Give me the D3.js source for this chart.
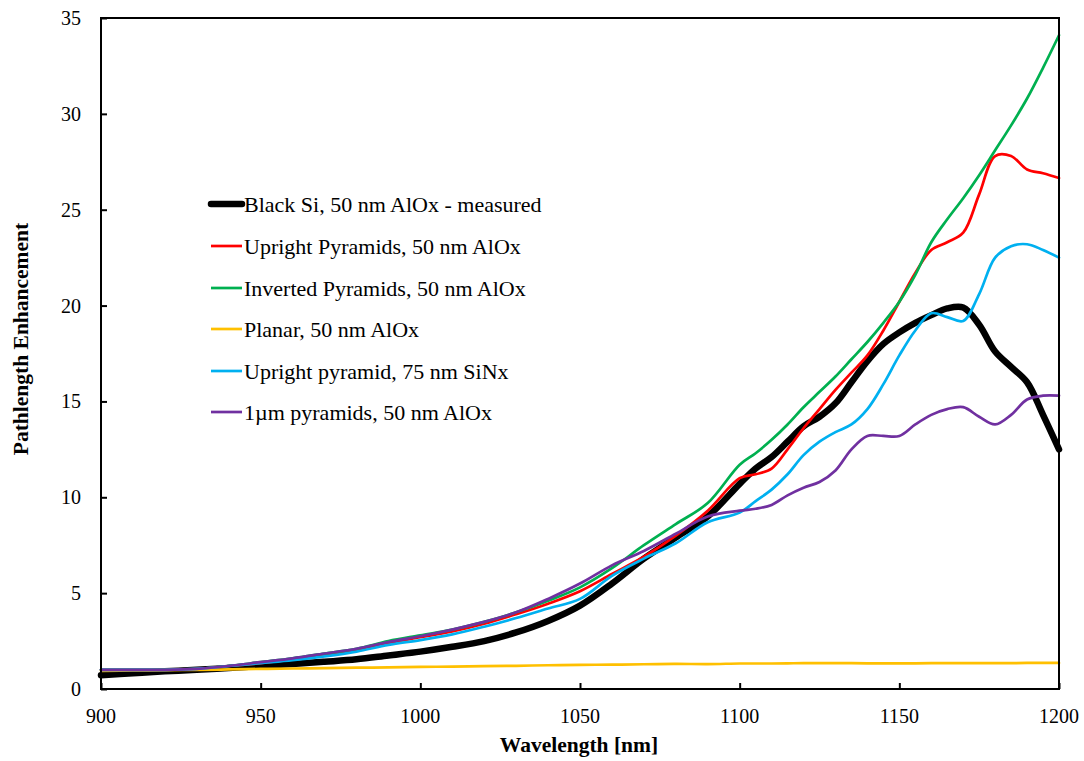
<!DOCTYPE html>
<html><head><meta charset="utf-8">
<script src="https://cdn.jsdelivr.net/npm/d3@7"></script>
<style>body{margin:0;background:#fff}svg{display:block}</style>
</head><body>
<svg id="chart" width="1084" height="761"></svg>
<script>
const wavelengths = [900,910,920,930,940,950,960,970,980,990,1000,1010,1020,1030,1040,1050,1060,1070,1080,1090,1100,1105,1110,1115,1120,1125,1130,1135,1140,1145,1150,1155,1160,1165,1170,1175,1180,1185,1190,1195,1200];
const blackSi = [0.72,0.82,0.92,1.0,1.1,1.2,1.3,1.42,1.55,1.75,1.95,2.2,2.5,2.95,3.55,4.35,5.5,6.8,7.9,9.0,10.7,11.5,12.1,12.9,13.7,14.2,14.9,16.0,17.1,18.0,18.6,19.1,19.5,19.85,19.9,19.0,17.6,16.8,16.0,14.3,12.5];
const uprightAlOx = [1.0,1.0,1.0,1.05,1.2,1.35,1.55,1.75,2.0,2.4,2.7,3.0,3.4,3.9,4.45,5.1,6.0,6.9,8.0,9.3,11.0,11.2,11.5,12.5,13.6,14.6,15.6,16.5,17.4,18.7,20.2,21.7,22.9,23.3,23.8,25.8,27.8,27.8,27.1,26.9,26.65];
const invertedAlOx = [1.0,1.0,1.0,1.05,1.2,1.4,1.6,1.85,2.1,2.5,2.8,3.1,3.5,4.0,4.6,5.3,6.3,7.5,8.6,9.7,11.7,12.3,13.0,13.8,14.7,15.5,16.3,17.2,18.1,19.1,20.2,21.6,23.3,24.5,25.6,26.8,28.1,29.4,30.8,32.4,34.1];
const planarAlOx = [0.95,0.97,0.98,1.0,1.02,1.05,1.07,1.09,1.11,1.13,1.15,1.17,1.19,1.21,1.24,1.26,1.27,1.29,1.31,1.3,1.33,1.33,1.33,1.34,1.35,1.35,1.35,1.35,1.34,1.34,1.34,1.34,1.35,1.35,1.35,1.35,1.35,1.35,1.36,1.36,1.36];
const uprightSiNx = [1.0,1.0,1.0,1.05,1.2,1.35,1.5,1.7,1.95,2.3,2.55,2.85,3.25,3.7,4.2,4.7,5.9,6.8,7.6,8.7,9.2,9.8,10.4,11.2,12.2,12.9,13.4,13.8,14.6,15.9,17.4,18.7,19.6,19.4,19.2,20.6,22.5,23.1,23.2,22.9,22.5];
const micronPyr = [1.0,1.0,1.0,1.05,1.2,1.4,1.6,1.85,2.1,2.45,2.75,3.1,3.5,4.0,4.7,5.5,6.45,7.2,8.1,9.0,9.3,9.4,9.6,10.1,10.5,10.8,11.4,12.5,13.2,13.2,13.2,13.8,14.3,14.6,14.7,14.2,13.8,14.3,15.1,15.3,15.3];
const seriesNames = ["Black Si, 50 nm AlOx - measured","Upright Pyramids, 50 nm AlOx","Inverted Pyramids, 50 nm AlOx","Planar, 50 nm AlOx","Upright pyramid, 75 nm SiNx","1\u00b5m pyramids, 50 nm AlOx"];
const seriesColors = ["#000000","#FF0000","#00B050","#FFC000","#00B0F0","#7030A0"];
const seriesWidths = [6.5,2.7,2.7,2.7,2.7,2.7];
const xTicks = [900,950,1000,1050,1100,1150,1200];
const yTicks = [0,5,10,15,20,25,30,35];

const seriesValues = [blackSi,uprightAlOx,invertedAlOx,planarAlOx,uprightSiNx,micronPyr];
const svg = d3.select("#chart");
const L=101, R=1059, T=18, B=689;
const x = d3.scaleLinear().domain([900,1200]).range([L,R]);
const y = d3.scaleLinear().domain([0,35]).range([B,T]);
const font = "'Liberation Serif','Times New Roman',serif";

// plot series
const line = d3.line().x(d=>x(d[0])).y(d=>y(d[1])).curve(d3.curveCatmullRom.alpha(0.5));
seriesValues.forEach((vals,i)=>{
  svg.append("path").datum(wavelengths.map((w,j)=>[w,vals[j]]))
    .attr("d",line).attr("fill","none").attr("stroke",seriesColors[i])
    .attr("stroke-width",seriesWidths[i]).attr("stroke-linejoin","round").attr("stroke-linecap","round");
});

// frame
svg.append("rect").attr("x",L).attr("y",T).attr("width",R-L).attr("height",B-T)
  .attr("fill","none").attr("stroke","#000").attr("stroke-width",2);

// axes with inward ticks
const yAxis = svg.append("g").attr("transform",`translate(${L},0)`)
  .call(d3.axisRight(y).tickValues(yTicks).tickSize(6).tickFormat(""));
yAxis.select(".domain").remove();
yAxis.selectAll("line").attr("stroke","#000").attr("stroke-width",2);
const xAxis = svg.append("g").attr("transform",`translate(0,${B})`)
  .call(d3.axisTop(x).tickValues(xTicks).tickSize(6).tickFormat(""));
xAxis.select(".domain").remove();
xAxis.selectAll("line").attr("stroke","#000").attr("stroke-width",2);

// tick labels
svg.selectAll(".ylab").data(yTicks).enter().append("text")
  .attr("x",81).attr("y",d=>y(d)).attr("dy","0.35em").attr("text-anchor","end")
  .attr("font-family",font).attr("font-size",20).text(d=>d);
svg.selectAll(".xlab").data(xTicks).enter().append("text")
  .attr("x",d=>x(d)).attr("y",723).attr("text-anchor","middle")
  .attr("font-family",font).attr("font-size",20).text(d=>d);

// axis titles
svg.append("text").attr("x",579).attr("y",752).attr("text-anchor","middle")
  .attr("font-family",font).attr("font-size",21.5).attr("font-weight","bold").text("Wavelength [nm]");
svg.append("text").attr("transform","translate(28,339) rotate(-90)").attr("text-anchor","middle")
  .attr("font-family",font).attr("font-size",21.5).attr("font-weight","bold").text("Pathlength Enhancement");

// legend
const legY = [204,246,288,329,371,412];
seriesNames.forEach((n,i)=>{
  svg.append("line").attr("x1",211).attr("x2",242).attr("y1",legY[i]).attr("y2",legY[i])
    .attr("stroke",seriesColors[i]).attr("stroke-width",seriesWidths[i]).attr("stroke-linecap", i===0?"round":"butt");
  svg.append("text").attr("x",244).attr("y",legY[i]).attr("dy","0.35em")
    .attr("font-family",font).attr("font-size",22).text(n);
});
</script>
</body></html>
